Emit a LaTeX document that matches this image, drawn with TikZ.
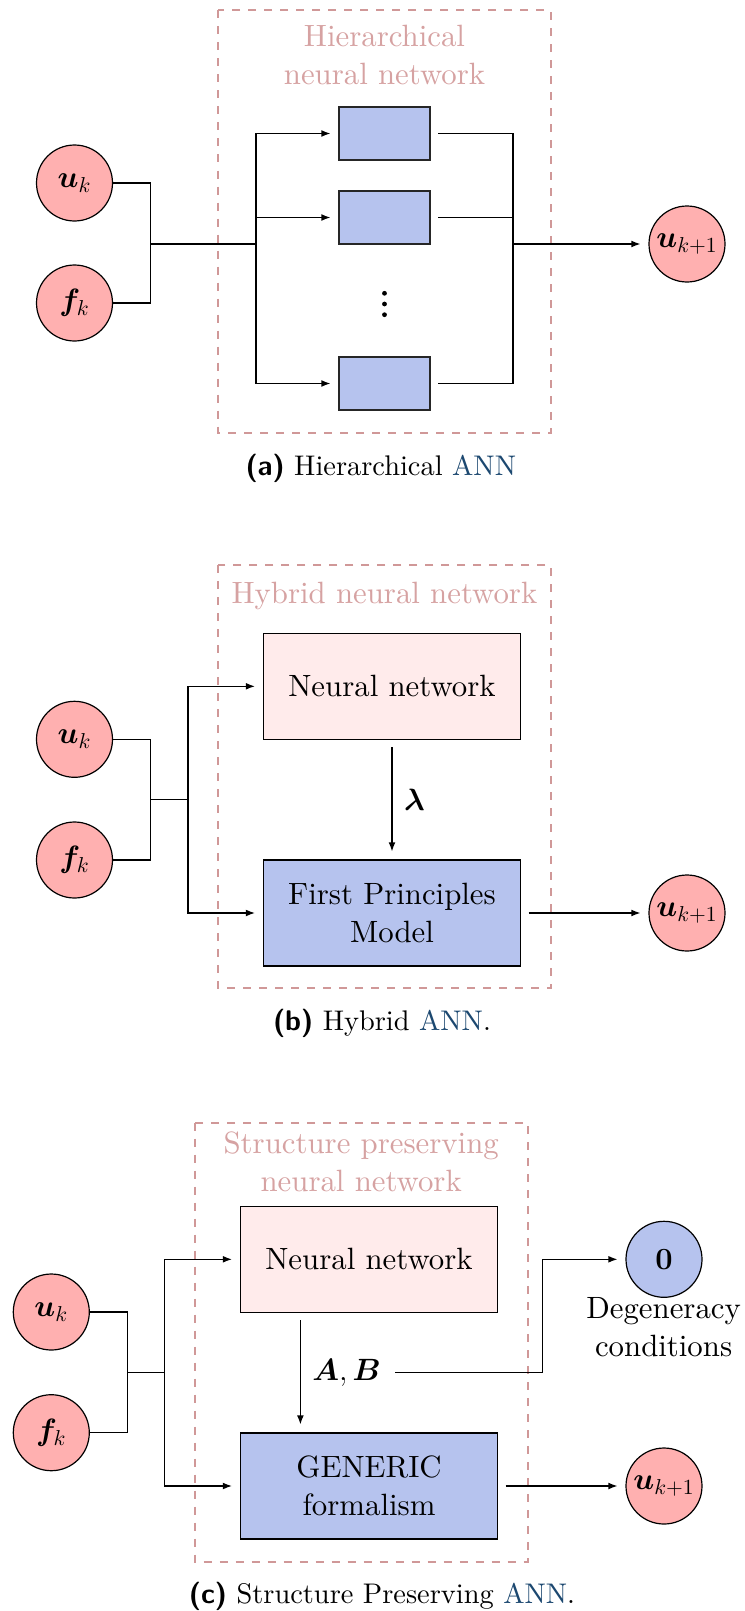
\IfFileExists{fix-cm.sty}{\RequirePackage{fix-cm}}{}
\documentclass[tikz,border=0pt]{standalone}
\usepackage{amsmath,bm}
\usepackage{fontspec}
\setmainfont{lmroman10-regular}[Extension=.otf, BoldFont=lmroman10-bold,
  ItalicFont=lmroman10-italic, BoldItalicFont=lmroman10-bolditalic]
\setsansfont{lmsans10-regular}[Extension=.otf, BoldFont=lmsans10-bold]
\usetikzlibrary{arrows.meta}

\definecolor{inpink}{RGB}{255,176,176}
\definecolor{nnpink}{RGB}{255,235,235}
\definecolor{fpblue}{RGB}{182,195,238}
\definecolor{framecol}{RGB}{208,152,152}
\definecolor{titlecol}{RGB}{214,162,162}
\definecolor{linkcol}{RGB}{28,72,112}

\begin{document}
\begin{tikzpicture}[
  x=0.5pt, y=-0.5pt,
  line width=0.6pt,
  every node/.style={font=\fontsize{15.4pt}{19pt}\selectfont},
  iocircle/.style={circle, draw=black, fill=inpink, minimum size=38pt, inner sep=0pt},
  zerocircle/.style={iocircle, fill=fpblue},
  nnbox/.style={draw=black, fill=nnpink, minimum width=128.5pt, minimum height=53pt,
    align=center, inner sep=0pt},
  fpbox/.style={nnbox, fill=fpblue},
  unitbox/.style={draw=black!85, fill=fpblue, minimum width=45.5pt, minimum height=26.5pt,
    inner sep=0pt},
  panelframe/.style={draw=framecol, line width=1pt, dash pattern=on 4pt off 4pt},
  paneltitle/.style={text=titlecol, anchor=base, inner sep=0pt},
  multiline/.style={anchor=base, inner sep=0pt},
  captext/.style={anchor=base, inner sep=0pt, font=\fontsize{14.2pt}{17pt}\selectfont},
  arr/.style={-{Latex[length=4.5pt,width=3.4pt]}, shorten >=4pt},
  fromnode/.style={shorten <=3.7pt},
  dot/.style={circle, fill=black, inner sep=0pt, minimum size=2.4pt},
]
\useasboundingbox (0,0) rectangle (744,1611);

% ---------------- (a) hierarchical network ----------------
\draw[panelframe] (218,10.5) rectangle (551,432.5);
\node[paneltitle] (ta) at (384.5,46.7)
  {\begin{tabular}[t]{@{}c@{}}Hierarchical\\neural network\end{tabular}};

\node[iocircle] (ua) at (74.5,183) {$\bm{u}_k$};
\node[iocircle] (fa) at (74.5,303) {$\bm{f}_k$};
\node[unitbox] (b1) at (384.5,133.5) {};
\node[unitbox] (b2) at (384.5,217.5) {};
\node[unitbox] (b3) at (384.5,383.5) {};
% vertical ellipsis between the units
\node[dot] (d1) at (384.5,293.3) {};
\node[dot] (d2) at (384.5,304) {};
\node[dot] (d3) at (384.5,314.7) {};
\node[iocircle] (ya) at (687,244) {$\bm{u}_{k+1}$};

\coordinate (ma) at (150.7,244);
\coordinate (sa) at (256,244);
\coordinate (ra) at (513,244);

\draw (ua.east) -| (ma) |- (fa.east);
\draw (ma) -- (sa);
\draw[arr] (sa) |- (b1.west);
\draw[arr] (sa) |- (b2.west);
\draw[arr] (sa) |- (b3.west);
\draw[fromnode] (b1.east) -| (ra);
\draw[fromnode] (b2.east) -| (ra);
\draw[fromnode] (b3.east) -| (ra);
\draw[arr] (ra) -- (ya);

\node[captext] (capa) at (380.8,475)
  {\textsf{\textbf{(a)}} Hierarchical \textcolor{linkcol}{ANN}};

% ---------------- (b) hybrid network ----------------
\draw[panelframe] (218.3,565) rectangle (550.5,988.3);
\node[paneltitle] (tb) at (384.4,603.3) {Hybrid neural network};

\node[iocircle] (ub) at (74.5,739.3) {$\bm{u}_k$};
\node[iocircle] (fb) at (74.5,860) {$\bm{f}_k$};
\node[nnbox] (nnb) at (392,686.3) {Neural network};
\node[fpbox] (fpb) at (392,913) {First Principles\\Model};
\node[iocircle] (yb) at (687,913) {$\bm{u}_{k+1}$};
\node (lam) at (414.5,800) {$\bm{\lambda}$};

\coordinate (mb) at (150.5,799.3);
\coordinate (sb) at (188,799.3);

\draw (ub.east) -| (mb) |- (fb.east);
\draw (mb) -- (sb);
\draw[arr] (sb) |- (nnb.west);
\draw[arr] (sb) |- (fpb.west);
\draw[arr,fromnode] (nnb.south) -- (fpb.north);
\draw[arr,fromnode] (fpb.east) -- (yb);

\node[captext] (capb) at (382,1030)
  {\textsf{\textbf{(b)}} Hybrid \textcolor{linkcol}{ANN}.};

% ---------------- (c) structure preserving network ----------------
\draw[panelframe] (194.6,1122.7) rectangle (527.8,1561.7);
\node[paneltitle] (tc) at (361.2,1153.3)
  {\begin{tabular}[t]{@{}c@{}}Structure preserving\\neural network\end{tabular}};

\node[iocircle] (uc) at (51.3,1312) {$\bm{u}_k$};
\node[iocircle] (fc) at (51.3,1432.7) {$\bm{f}_k$};
\node[nnbox] (nnc) at (369,1259.3) {Neural network};
\node[fpbox] (gc) at (369,1486) {GENERIC\\formalism};
\node[zerocircle] (zc) at (664,1259.3) {$\bm{0}$};
\node[multiline] (dc) at (663.6,1318.3)
  {\begin{tabular}[t]{@{}c@{}}Degeneracy\\conditions\end{tabular}};
\node[iocircle] (yc) at (664,1486) {$\bm{u}_{k+1}$};
\node[anchor=base] (abc) at (346.5,1380) {$\bm{A},\bm{B}$};

\coordinate (mc) at (127.2,1372.7);
\coordinate (sc) at (164.7,1372.7);
\coordinate (ac) at (300.4,1372.7);
\coordinate (kc) at (542.5,1259.3);

\draw (uc.east) -| (mc) |- (fc.east);
\draw (mc) -- (sc);
\draw[arr] (sc) |- (nnc.west);
\draw[arr] (sc) |- (gc.west);
\draw[arr,fromnode] (nnc.south -| ac) -- (gc.north -| ac);
\draw[arr,fromnode] (abc.east) -| (kc) -- (zc.west);
\draw[arr,fromnode] (gc.east) -- (yc);

\node[captext] (capc) at (382,1603)
  {\textsf{\textbf{(c)}} Structure Preserving \textcolor{linkcol}{ANN}.};
\end{tikzpicture}
\end{document}
